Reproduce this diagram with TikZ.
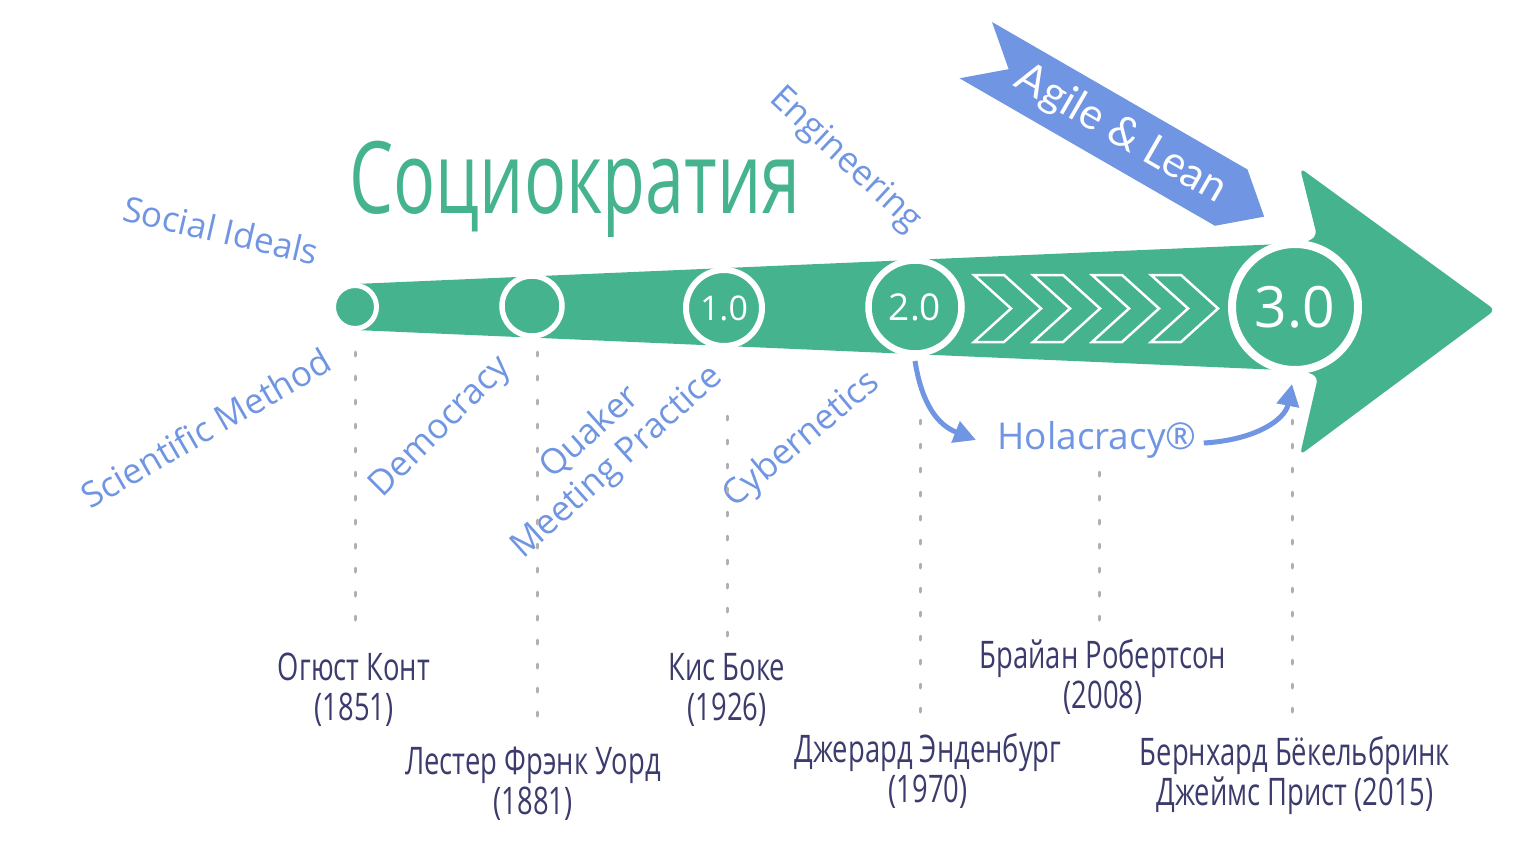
\documentclass[tikz,border=0pt]{standalone}
\usepackage{fontspec}
\setmainfont{Open Sans}
\newfontfamily\condfont[FakeStretch=0.72]{Open Sans}
\newfontfamily\titlefont[FakeStretch=0.70]{Open Sans}
\newfontfamily\latofont{Lato}
\usetikzlibrary{arrows.meta}
\definecolor{sgreen}{HTML}{45B38D}
\definecolor{sblue}{HTML}{6F95E3}
\definecolor{snavy}{HTML}{3B3B6D}
\definecolor{sgray}{HTML}{B0B0B0}
\tikzset{
  lbl/.style={text=sblue, font=\fontsize{35}{40}\selectfont, inner sep=0pt, align=center},
  pname/.style={text=snavy, font=\condfont\fontsize{38}{40}\selectfont, inner sep=0pt, align=center},
  ring/.style={circle, fill=sgreen, draw=white, text=white, inner sep=0pt},
  dotline/.style={sgray, line width=3pt, line cap=round, dash pattern=on 4pt off 20pt},
  barrow/.style={sblue, line width=5pt, -{Triangle[length=22pt,width=22pt]}},
  chev/.style={draw=white, line width=2.5pt, line join=miter},
}
\begin{document}
\begin{tikzpicture}[x=1pt,y=-1pt]
\useasboundingbox (0,0) rectangle (1532,862);
% main bar with arrow head
\fill[sgreen, rounded corners=6pt] (355,284) -- (1305,243) -- (1317,236) -- (1300,168) -- (1495,310) -- (1300,455) -- (1318,377) -- (1305,371) -- (355,330) -- cycle;
% chevrons
\foreach \i in {0,1,2,3}{
  \draw[chev] ({974+59*\i},275) -- ({1004+59*\i},275) -- ({1041+59*\i},308.5) -- ({1004+59*\i},342) -- ({974+59*\i},342) -- ({1011+59*\i},308.5) -- cycle;
}
% circles
\node[ring, line width=5pt, minimum size=43pt] (c1) at (355,307) {};
\node[ring, line width=5.5pt, minimum size=60pt] (c2) at (532,306) {};
\node[ring, line width=6pt, minimum size=76pt, font=\fontsize{34}{36}\selectfont] (c10) at (724,308) {1.0};
\node[ring, line width=6.5pt, minimum size=93pt, font=\fontsize{37}{40}\selectfont] (c20) at (915,307) {2.0};
\node[ring, line width=8pt, minimum size=126pt, font=\fontsize{57}{60}\selectfont] (c30) at (1295,307) {3.0};
% banner
\begin{scope}[shift={(992,22)}, rotate=-30]
  \fill[sblue] (0,0) -- (295,0) -- (333,32.5) -- (295,65) -- (0,65) -- (38,32.5) -- cycle;
  \node[text=white, font=\latofont\fontsize{43}{48}\selectfont, rotate=-30, inner sep=0pt] (agile) at (168,33) {Agile \& Lean};
\end{scope}
% title
\node[text=sgreen, font=\titlefont\fontsize{100}{110}\selectfont, anchor=base, inner sep=0pt] (title) at (575,213) {Социократия};
% blue labels
\node[lbl, rotate=-13] (social) at (221,230) {Social Ideals};
\node[lbl, rotate=30] (sci) at (206,428) {Scientific Method};
\node[lbl, rotate=45] (dem) at (441,428) {Democracy};
\node[lbl, rotate=42] (quak) at (604,448) {Quaker\\Meeting Practice};
\node[lbl, rotate=40] (cyb) at (802,440) {Cybernetics};
\node[lbl, rotate=-43] (eng) at (845,160) {Engineering};
\node[lbl, font=\fontsize{37}{40}\selectfont] (hol) at (1097,440) {Holacracy®};
% blue arrows
\draw[barrow] (915,361) .. controls (922,405) and (938,425) .. (976,440);
\draw[barrow] (hol.east) ++(7,3) .. controls (1255,440) and (1285,420) .. (1292,384);
% dotted lines
\coordinate (d1a) at (355,352); \coordinate (d1b) at (355,625);
\coordinate (d2a) at (537,352); \coordinate (d2b) at (537,735);
\coordinate (d3a) at (727,416); \coordinate (d3b) at (727,640);
\coordinate (d4a) at (920,420); \coordinate (d4b) at (920,720);
\coordinate (d5a) at (1099,472); \coordinate (d5b) at (1099,625);
\coordinate (d6a) at (1292,420); \coordinate (d6b) at (1292,712);
\draw[dotline] (d1a) -- (d1b);
\draw[dotline] (d2a) -- (d2b);
\draw[dotline] (d3a) -- (d3b);
\draw[dotline] (d4a) -- (d4b);
\draw[dotline] (d5a) -- (d5b);
\draw[dotline] (d6a) -- (d6b);
% names
\node[pname] (n1) at (354,690) {Огюст Конт\\(1851)};
\node[pname] (n2) at (533,784) {Лестер Фрэнк Уорд\\(1881)};
\node[pname] (n3) at (727,690) {Кис Боке\\(1926)};
\node[pname] (n4) at (1103,677) {Брайан Робертсон\\(2008)};
\node[pname] (n5) at (928,771) {Джерард Энденбург\\(1970)};
\node[pname] (n6) at (1295,775) {Бернхард Бёкельбринк\\Джеймс Прист (2015)};
\end{tikzpicture}
\end{document}
